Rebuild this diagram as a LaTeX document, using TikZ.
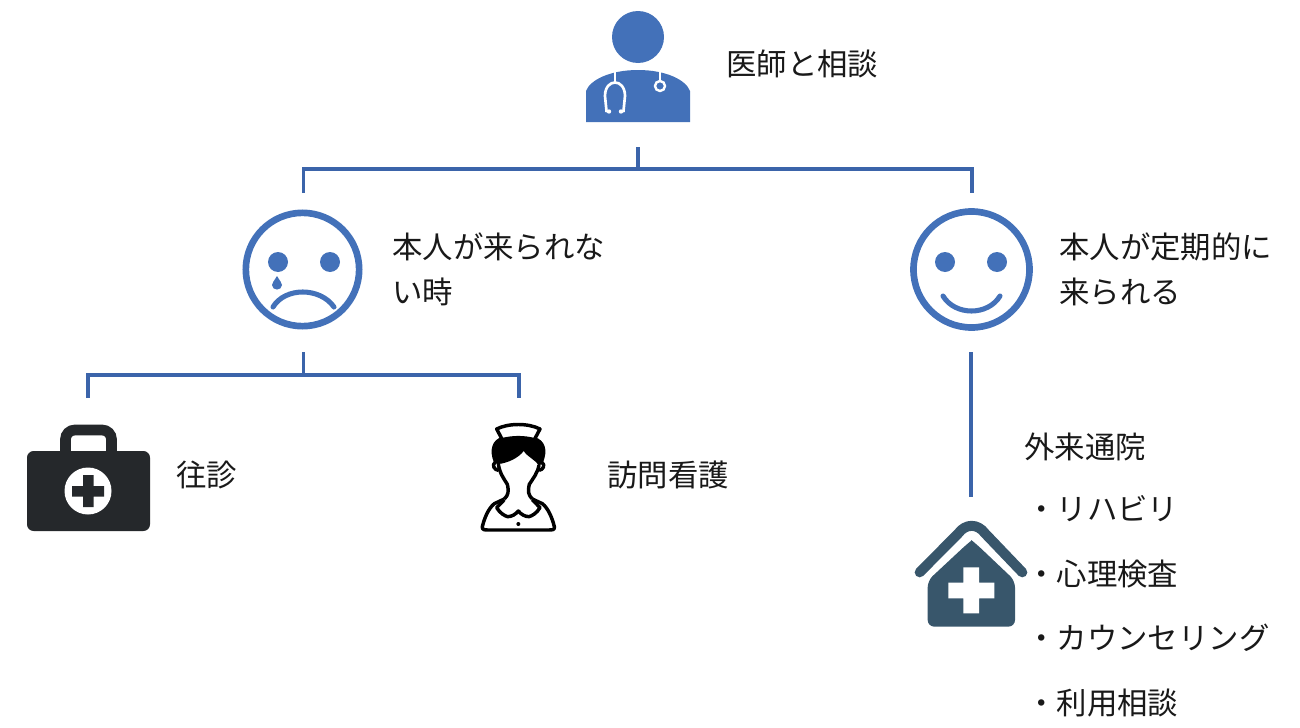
\documentclass[tikz,border=0pt]{standalone}
\usepackage{fontspec}
\setmainfont{Noto Sans CJK JP}
\usepackage{tikz}

\definecolor{linkblue}{RGB}{59,100,170}
\definecolor{iconblue}{RGB}{67,113,185}
\definecolor{kitdark}{RGB}{37,40,43}
\definecolor{houseslate}{RGB}{56,86,107}
\tikzset{
  label/.style={anchor=west,inner sep=0pt,font=\fontsize{22.8}{24}\selectfont,text=black!90},
  link/.style={color=linkblue,line width=2.6pt},
  face/.style={color=iconblue,line width=5pt},
  facepart/.style={color=iconblue,line width=3.8pt,line cap=round},
  nurseline/.style={black,line width=2.6pt,line join=round},
}

\begin{document}
\begin{tikzpicture}[x=0.75pt,y=0.75pt,yscale=-1]
\useasboundingbox (0,0) rectangle (1300,728);

%Doctor
\fill [iconblue] (638,37) circle [radius=26];
\fill [iconblue] (586,122) -- (586,91) .. controls (590,80) and (610,70) .. (638,70) .. controls (666,70) and (686,80) .. (690,91) -- (690,122) -- cycle;
\draw [white,line width=1.8pt] (615,68) -- (615,83);
\draw [white,line width=2pt] (609,111.5) -- (606.5,111) -- (605,96) .. controls (605,78) and (625,78) .. (625,96) -- (623.5,111) -- (621,111.5);
\fill [white] (609,111.5) circle [radius=2.2] (621,111.5) circle [radius=2.2];
\draw [white,line width=1.8pt] (660,68) -- (660,81);
\draw [white,line width=1.8pt] (660,86) circle [radius=5];

%Sad face
\node (sad) at (302.5,269.5) [circle,draw,face,minimum size=85pt,inner sep=0pt] {};
\fill [iconblue] (278,262) circle [radius=10] (330,262) circle [radius=10];
\fill [iconblue] (277,276) .. controls (274,281) and (272,283) .. (272,285) .. controls (272,291) and (282,291) .. (282,285) .. controls (282,283) and (280,281) .. (277,276) -- cycle;
\draw [facepart] (273,307) .. controls (285,287) and (320,287) .. (334,307);

%Happy face
\node (happy) at (971.5,269.5) [circle,draw,face,minimum size=87pt,inner sep=0pt] {};
\fill [iconblue] (945,262) circle [radius=10] (997,262) circle [radius=10];
\draw [facepart] (943,296) .. controls (955,316) and (988,316) .. (1000,296);

%Medical kit
\draw [kitdark,line width=8pt,rounded corners=7pt] (65.5,451) -- (65.5,430) -- (111.5,430) -- (111.5,451);
\fill [kitdark,rounded corners=5pt] (27,451) rectangle (150,531);
\fill [white] (88,491) circle [radius=23.5];
\fill [kitdark] (83,475) rectangle (93.5,507) (72,486) rectangle (104,496.5);

%Nurse
\begin{scope}[shift={(465,415)},scale=1/3]
\fill [black] (88,145) .. controls (70,105) and (83,72) .. (112,66) -- (208,66) .. controls (240,75) and (250,105) .. (233,145) -- (222,152) .. controls (212,135) and (190,128) .. (176,108) .. controls (160,130) and (125,145) .. (100,147) -- cycle;
\draw [nurseline,fill=white] (95,42) .. controls (130,24) and (190,24) .. (225,42) -- (208,74) .. controls (175,66) and (145,66) .. (112,74) -- cycle;
\draw [nurseline] (100,147) .. controls (104,175) and (116,190) .. (127,208) .. controls (132,230) and (130,240) .. (118,252);
\draw [nurseline] (222,150) .. controls (218,175) and (204,190) .. (193,208) .. controls (188,230) and (190,240) .. (202,252);
\draw [nurseline] (90,142) .. controls (80,150) and (88,165) .. (100,166);
\draw [nurseline] (231,142) .. controls (242,150) and (234,165) .. (222,166);
\draw [nurseline] (118,252) -- (88,266) .. controls (70,280) and (58,310) .. (52,335) .. controls (50,345) and (60,345) .. (70,345) -- (250,345) .. controls (262,345) and (270,345) .. (268,335) .. controls (262,310) and (250,280) .. (232,266) -- (202,252);
\draw [nurseline] (118,254) -- (95,278) .. controls (105,295) and (120,303) .. (128,305) .. controls (140,305) and (152,298) .. (160,288) .. controls (168,298) and (180,305) .. (192,305) .. controls (200,303) and (215,295) .. (225,278) -- (202,254);
\fill [black] (160,327) circle [radius=6];
\end{scope}

%House
\begin{scope}[shift={(905,510)},scale=1/3]
\fill [houseslate,rounded corners=5pt] (68,212) -- (185,103) .. controls (195,95) and (205,95) .. (215,103) -- (330,212) -- (330,350) -- (68,350) -- cycle;
\draw [houseslate,line width=7.5pt,line cap=round,line join=round] (44,187) -- (160,70) .. controls (182,40) and (218,40) .. (240,70) -- (352,187);
\fill [white] (175,172) rectangle (222,310) (130,218) rectangle (268,265);
\end{scope}

%Connector junctions
\coordinate (doctorstem) at (638,147);
\coordinate (topbar) at (638,169);
\coordinate (sadtop) at (303.5,193);
\coordinate (happytop) at (972,193);
\coordinate (sadstem) at (303.5,352);
\coordinate (sadbar) at (303.5,375);
\coordinate (kittop) at (88,398);
\coordinate (nursetop) at (519,398);
\coordinate (happystem) at (971,352);
\coordinate (housetop) at (971,497);

%Straight Lines
\draw [link] (doctorstem) -- (topbar);
\draw [link] (sadtop) |- (topbar) -| (happytop);
\draw [link] (sadstem) -- (sadbar);
\draw [link] (kittop) |- (sadbar) -| (nursetop);
\draw [link] (happystem) -- (housetop);

% Text Node
\node (doctorlabel) at (726,64) [label] {医師と相談};
\node (sadlabela) at (392,247) [label] {本人が来られな};
\node (sadlabelb) at (392,292) [label] {い時};
\node (happylabela) at (1059,247) [label] {本人が定期的に};
\node (happylabelb) at (1059,292) [label] {来られる};
\node (kitlabel) at (176,475) [label] {往診};
\node (nurselabel) at (607,475) [label] {訪問看護};
\node (visitlabel) at (1024,447) [label] {外来通院};
\node (itema) at (1026,509) [label] {・リハビリ};
\node (itemb) at (1026,574) [label] {・心理検査};
\node (itemc) at (1026,638) [label] {・カウンセリング};
\node (itemd) at (1026,703) [label] {・利用相談};

\end{tikzpicture}
\end{document}
